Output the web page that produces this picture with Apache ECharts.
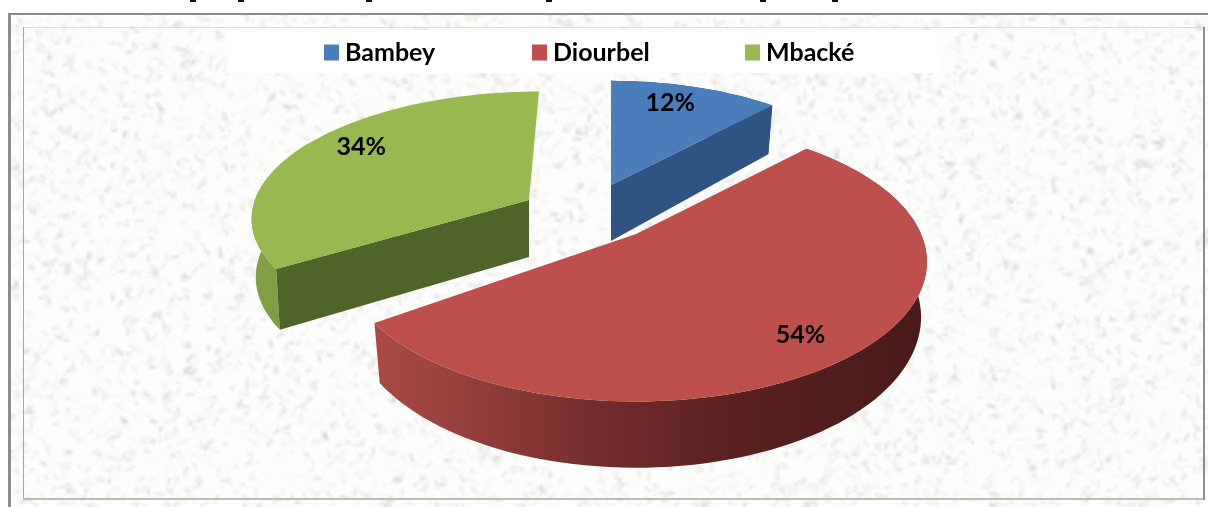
<!DOCTYPE html>
<html><head><meta charset="utf-8">
<style>html,body{margin:0;padding:0;background:#fff}#c{width:1208px;height:507px}</style>
<script src="https://cdn.jsdelivr.net/npm/echarts@6/dist/echarts.min.js"></script>
</head><body><div id="c"></div>
<script>
const categories = ['Bambey', 'Diourbel', 'Mbacké'];
const shares = [12, 54, 34];
const topColors = ['#4a7ebb', '#bd4f4c', '#97b950'];
const legendLeft = [324, 532, 745];
// Drawing order: back slices first, the big front slice last.
const drawOrder = [2, 0, 1];

// Projection of each exploded slice: centre, radii, perspective, thickness.
// trim: the source's perspective narrows the slice's far corner by this many degrees.
// rimTo: where the outer wall stops being visible behind the top face.
const views = [
  {cx: 611, cy: 185, a: 270, b: 125, k: .2,  d: 56, low: .975, shear: 0, lr: .8, ldx: -10, ldy: -1, trim: 0, rimTo: null, wall: 'end', wallFill: '#2f5484', rimFill: '#2f5484'},
  {cx: 636, cy: 234, a: 285, b: 134, k: .2,  d: 53, low: .98, shear: 0, lr: .82, ldx: -6, ldy: 4, trim: 3.5, rimTo: null, wall: null, wallFill: null,
   rimFill: [[0, '#ab4a46'], [.15, '#98403d'], [.4, '#732d2c'], [.65, '#5a2120'], [1, '#481a19']]},
  {cx: 529, cy: 200, a: 274, b: 121, k: .115, d: 57, low: .985, shear: .092, lr: .8, ldx: 12, ldy: -8, trim: 0, rimTo: 300, wall: 'start', wallFill: '#4f6428', rimFill: '#7f9f42'}
];

const total = shares.reduce((s, v) => s + v, 0);
const sweep = shares.map(v => v / total * 360);
const startAngle = sweep.map((_, i) => sweep.slice(0, i).reduce((s, v) => s + v, 0));

function project(view, deg, f, lower) {
  const t = deg * Math.PI / 180, u = Math.sin(t) * f, v = Math.cos(t) * f;
  const den = 1 + view.k * v;
  const ry = -view.b * v / den;
  const dx = view.a * u / den - view.shear * ry;
  const x = view.cx + dx * (lower ? view.low : 1);
  const y = view.cy + ry + (lower ? view.d / den : 0);
  return [x, y];
}
function arc(view, from, to, lower) {
  const pts = [], n = Math.max(2, Math.ceil(Math.abs(to - from) / 2));
  for (let i = 0; i <= n; i++) pts.push(project(view, from + (to - from) * i / n, 1, lower));
  return pts;
}
function poly(points, fill) {
  return {type: 'polygon', shape: {points}, style: {fill}, silent: true};
}

function renderSlice(idx) {
  return function (params, api) {
    const value = api.value(0), view = views[idx];
    const from = startAngle[idx], sliceEnd = from + value / total * 360;
    const to = sliceEnd - view.trim;
    const rimEnd = view.rimTo === null ? to : view.rimTo;
    const rim = arc(view, from, rimEnd, false).concat(arc(view, rimEnd, from, true));
    const rimFill = Array.isArray(view.rimFill)
      ? new echarts.graphic.LinearGradient(0, 0, 1, 0, view.rimFill.map(s => ({offset: s[0], color: s[1]})))
      : view.rimFill;
    const children = [poly(rim, rimFill)];
    if (view.wall) {
      const a = view.wall === 'end' ? to : from;
      children.push(poly([
        project(view, a, 0, false), project(view, a, 1, false),
        project(view, a, 1, true), project(view, a, 0, true)
      ], view.wallFill));
    }
    children.push(poly([project(view, 0, 0, false)].concat(arc(view, from, to, false)), topColors[idx]));
    const mid = project(view, (from + sliceEnd) / 2, view.lr, false);
    children.push({
      type: 'text', silent: true,
      style: {
        text: Math.round(value / total * 100) + '%',
        x: mid[0] + view.ldx, y: mid[1] + view.ldy,
        align: 'center', verticalAlign: 'middle',
        font: 'bold 25px Lato', fill: '#000'
      }
    });
    return {type: 'group', children};
  };
}

// Speckled paper backdrop (decoration only; a fixed-seed generator, no data).
// Specks are drawn sharp, then the whole sheet is softened once by up-scaling.
function paper(w, h) {
  const small = document.createElement('canvas');
  small.width = Math.ceil(w / 3); small.height = Math.ceil(h / 3);
  const s = small.getContext('2d');
  s.fillStyle = '#fdfdfb'; s.fillRect(0, 0, small.width, small.height);
  let seed = 73421;
  const r = () => (seed = (seed * 1664525 + 1013904223) >>> 0) / 4294967296;
  s.lineCap = 'round';
  for (let i = 0; i < 7000; i++) {
    const x = r() * small.width, y = r() * small.height, ang = r() * Math.PI, len = .5 + r() * 2;
    s.strokeStyle = 'rgba(180,180,175,' + (.08 + r() * .3) + ')';
    s.lineWidth = .4 + r() * .8;
    s.beginPath(); s.moveTo(x, y);
    s.lineTo(x + Math.cos(ang) * len, y + Math.sin(ang) * len); s.stroke();
  }
  const cv = document.createElement('canvas');
  cv.width = w; cv.height = h;
  const c = cv.getContext('2d');
  c.imageSmoothingEnabled = true;
  c.imageSmoothingQuality = 'high';
  c.drawImage(small, 0, 0, w, h);
  return cv;
}

const clippedTitleBits = [190, 238, 366, 546, 760, 832];
const chart = echarts.init(document.getElementById('c'), null, {renderer: 'canvas'});
chart.setOption({
  animation: false,
  backgroundColor: '#ffffff',
  legend: categories.map((name, i) => ({
    data: [name], left: legendLeft[i], top: 40, padding: 0,
    icon: 'rect', itemWidth: 15, itemHeight: 16, itemGap: 0,
    selectedMode: false,
    textStyle: {fontFamily: 'Lato', fontWeight: 'bold', fontSize: 25, color: '#000', padding: [0, 0, 0, 1]}
  })),
  graphic: [
    {type: 'image', left: 9, top: 15, z: -5, silent: true, style: {image: paper(1199, 492), width: 1199, height: 492}},
    {type: 'rect', z: -4, silent: true, shape: {x: 8, y: 13, width: 1200, height: 2}, style: {fill: '#8c8c8c'}},
    {type: 'rect', z: -4, silent: true, shape: {x: 8, y: 13, width: 3, height: 494}, style: {fill: '#8c8c8c'}},
    {type: 'rect', z: -4, silent: true, shape: {x: 23, y: 27, width: 1181, height: 1}, style: {fill: '#dcdcd8'}},
    {type: 'rect', z: -4, silent: true, shape: {x: 23, y: 27, width: 1, height: 472}, style: {fill: '#a8a8a8'}},
    {type: 'rect', z: -4, silent: true, shape: {x: 23, y: 498, width: 1181, height: 2}, style: {fill: '#bdbdb8'}},
    {type: 'rect', z: -4, silent: true, shape: {x: 1203, y: 27, width: 2, height: 473}, style: {fill: '#8c8c8c'}},
    {type: 'rect', z: -3, silent: true, shape: {x: 227, y: 30, width: 713, height: 43}, style: {fill: '#ffffff'}}
  ].concat(clippedTitleBits.map(x => ({
    type: 'rect', z: -3, silent: true, shape: {x, y: 0, width: 6, height: 2}, style: {fill: '#111'}
  }))),
  series: drawOrder.map(i => ({
    type: 'custom',
    name: categories[i],
    coordinateSystem: 'none',
    itemStyle: {color: topColors[i]},
    renderItem: renderSlice(i),
    data: [[shares[i]]],
    silent: true
  }))
});
</script></body></html>
